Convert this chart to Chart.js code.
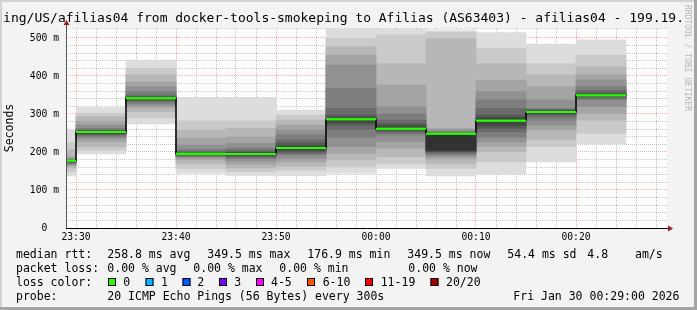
<!DOCTYPE html>
<html>
<head>
<meta charset="utf-8">
<script src="https://cdn.jsdelivr.net/npm/chart.js@4.4.1/dist/chart.umd.min.js"></script>
<style>
  html, body { margin: 0; padding: 0; background: #f3f3f3; }
  canvas { display: block; }
</style>
</head>
<body>
<canvas id="smokeChart" width="697" height="310"></canvas>
<script>
// slots of 5 minutes, x in minutes relative to 23:30
const slotStart = [-5, 0, 5, 10, 15, 20, 25, 30, 35, 40, 45, 50];
const slotLength = 5;
const medianRtt = [176.9, 252.6, 341.5, 195.6, 194.7, 210.5, 286, 261.4, 248, 282, 305, 349.5];

// 20 sorted ping times per slot (ms)
const pings2325 = [137, 148, 158, 164, 166, 169, 171, 173, 175, 176, 177.5, 178, 179, 180, 181, 183, 188, 205, 224, 260];
const pings2330 = [195, 205, 214, 227, 235, 240, 244, 247, 249, 251, 254, 255, 256, 258, 262, 271, 280, 293, 302, 317];
const pings2335 = [274, 289, 306, 316, 322, 328, 333, 336, 338, 340, 343, 344, 346, 350, 359, 372, 385, 403, 420, 442];
const pings2340 = [144, 157, 170, 180, 185, 188, 190, 192, 194, 195, 197, 198, 199, 202, 207, 218, 236, 258, 282, 344];
const pings2345 = [138, 148, 158, 168, 176, 183, 186, 189, 192, 194, 196, 198, 200, 205, 210, 223, 240, 262, 282, 344];
const pings2350 = [138, 152, 163, 174, 183, 192, 196, 200, 205, 209, 212, 216, 224, 232, 245, 258, 271, 284, 297, 310];
const pings2355 = [144, 161, 179, 197, 214, 240, 260, 271, 278, 284, 287, 290, 297, 315, 367, 429, 455, 477, 499, 526];
const pings0000 = [157, 170, 188, 210, 228, 245, 250, 255, 258, 260, 263, 268, 275, 284, 300, 319, 376, 433, 508, 523];
const pings0005 = [137, 157, 170, 182, 188, 193, 197, 200, 202, 205, 248, 249, 250, 251, 254, 258, 262, 499, 515, 521];
const pings0010 = [142, 174, 201, 215, 227, 240, 253, 262, 270, 280, 284, 290, 297, 315, 337, 359, 389, 433, 473, 514];
const pings0015 = [174, 214, 232, 258, 270, 284, 292, 298, 302, 304, 306, 308, 310, 312, 315, 337, 372, 403, 433, 484];
const pings0020 = [220, 249, 284, 302, 319, 337, 341, 344, 346, 348, 350, 352, 356, 362, 372, 389, 403, 424, 455, 495];
const pingSlots = [pings2325, pings2330, pings2335, pings2340, pings2345, pings2350,
                   pings2355, pings0000, pings0005, pings0010, pings0015, pings0020];

const xTickValues = [0, 10, 20, 30, 40, 50];
const xTickLabels = ['23:30', '23:40', '23:50', '00:00', '00:10', '00:20'];
const yTickValues = [0, 100, 200, 300, 400, 500];
const yTickLabels = ['0  ', '100 m', '200 m', '300 m', '400 m', '500 m'];

const lossLabels = ['0', '1', '2', '3', '4-5', '6-10', '11-19', '20/20'];
const lossColors = ['#26ff00', '#00b8ff', '#0059ff', '#7e00ff', '#ff00ff', '#ff5500', '#ff0000', '#a10000'];

const MONO = '"DejaVu Sans Mono", "Liberation Mono", monospace';
const majorGrid = 'rgba(255, 60, 60, 0.45)';
const minorGrid = 'rgba(150, 150, 150, 0.55)';

// smoke: band k spans ping k .. ping 21-k, darker towards the middle
const pingCount = 20;
const half = pingCount / 2;
const smokeSets = [];
for (let k = 1; k <= half; k++) {
  const c = Math.floor(190 / half * (half - k)) + 50;
  smokeSets.push({
    type: 'bar',
    data: slotStart.map((s, i) => ({ x: s + slotLength / 2, y: [pingSlots[i][k - 1], pingSlots[i][pingCount - k]] })),
    backgroundColor: `rgb(${c},${c},${c})`,
    borderWidth: 0,
    barThickness: 50,
    grouped: false,
    order: 20 - k,
    clip: 0
  });
}

// black step line through medians
const last = slotStart.length - 1;
const stepData = slotStart.map((s, i) => ({ x: s, y: medianRtt[i] }));
stepData.push({ x: slotStart[last] + slotLength, y: medianRtt[last] });

// green (loss colour) median segments
const greenData = [];
slotStart.forEach((s, i) => {
  greenData.push({ x: s, y: medianRtt[i] }, { x: s + slotLength, y: medianRtt[i] }, { x: s + slotLength, y: null });
});

const datasets = [
  {
    type: 'line', data: greenData, borderColor: lossColors[0], borderWidth: 2,
    borderCapStyle: 'butt', pointRadius: 0, fill: false, spanGaps: false, order: 0, clip: 0
  },
  {
    type: 'line', data: stepData, stepped: true, borderColor: '#000000', borderWidth: 1,
    pointRadius: 0, fill: false, order: 1, clip: 0
  }
].concat(smokeSets);

const legendRows = [
  { y: 257.5, items: [[16, 'median rtt:'], [107.3, '258.8 ms avg'], [207.3, '349.5 ms max'], [307.3, '176.9 ms min'],
                      [407.3, '349.5 ms now'], [507.3, '54.4 ms sd'], [587.3, '4.8'], [635, 'am/s']] },
  { y: 271.5, items: [[16, 'packet loss:'], [107.3, '0.00 % avg'], [193.3, '0.00 % max'], [279.3, '0.00 % min'], [408.3, '0.00 % now']] },
  { y: 285.5, items: [[16, 'loss color:']] },
  { y: 299.5, items: [[16, 'probe:'], [107.3, '20 ICMP Echo Pings (56 Bytes) every 300s'], [513.3, 'Fri Jan 30 00:29:00 2026']] }
];
const lossBoxX = [108, 145.5, 182.5, 219, 256, 307, 365, 430.5];
const lossTextX = [123.3, 161, 197.3, 234.3, 271, 322.7, 380.7, 446];

const rrdLook = {
  id: 'rrdLook',
  beforeDraw(chart) {
    const { ctx, chartArea: a } = chart;
    ctx.save();
    ctx.fillStyle = '#f3f3f3';
    ctx.fillRect(0, 0, chart.width, chart.height);
    ctx.fillStyle = '#d2d2d2';
    ctx.fillRect(0, 0, chart.width, 2);
    ctx.fillRect(0, 0, 2, chart.height);
    ctx.fillStyle = '#a4a4a4';
    ctx.fillRect(0, chart.height - 3, chart.width, 3);
    ctx.fillRect(chart.width - 3, 0, 3, chart.height);
    ctx.fillStyle = '#ffffff';
    ctx.fillRect(a.left, a.top, a.right - a.left, a.bottom - a.top);
    ctx.restore();
  },
  afterDraw(chart) {
    const { ctx, chartArea: a } = chart;

    // medians go over the grid, like rrdtool
    ctx.save();
    ctx.beginPath();
    ctx.rect(a.left, a.top, a.right - a.left, a.bottom - a.top);
    ctx.clip();
    chart.getDatasetMeta(1).controller.draw();
    chart.getDatasetMeta(0).controller.draw();
    ctx.restore();

    ctx.save();
    // axes with arrows
    ctx.strokeStyle = '#555555';
    ctx.lineWidth = 1;
    ctx.beginPath();
    ctx.moveTo(a.left + 0.5, a.bottom);
    ctx.lineTo(a.left + 0.5, a.top - 4);
    ctx.stroke();
    ctx.strokeStyle = '#000000';
    ctx.beginPath();
    ctx.moveTo(a.left, a.bottom + 0.5);
    ctx.lineTo(a.right + 2, a.bottom + 0.5);
    ctx.stroke();
    ctx.fillStyle = '#9b1c1c';
    ctx.beginPath();
    ctx.moveTo(a.left - 2.5, a.top - 3);
    ctx.lineTo(a.left + 3.5, a.top - 3);
    ctx.lineTo(a.left + 0.5, a.top - 8);
    ctx.closePath();
    ctx.fill();
    ctx.beginPath();
    ctx.moveTo(a.right + 1, a.bottom - 2.5);
    ctx.lineTo(a.right + 1, a.bottom + 3.5);
    ctx.lineTo(a.right + 6, a.bottom + 0.5);
    ctx.closePath();
    ctx.fill();

    // title
    ctx.fillStyle = '#000000';
    ctx.textBaseline = 'alphabetic';
    ctx.textAlign = 'left';
    ctx.font = '13px ' + MONO;
    ctx.fillText('ing/US/afilias04 from docker-tools-smokeping to Afilias (AS63403) - afilias04 - 199.19.', 3.1, 22);

    // legend
    ctx.font = '11.5px ' + MONO;
    legendRows.forEach(row => row.items.forEach(([x, t]) => ctx.fillText(t, x, row.y)));
    lossLabels.forEach((lab, i) => {
      ctx.fillStyle = lossColors[i];
      ctx.fillRect(lossBoxX[i], 278, 8, 8);
      ctx.strokeStyle = '#000000';
      ctx.strokeRect(lossBoxX[i] + 0.5, 278.5, 7, 7);
      ctx.fillStyle = '#000000';
      ctx.fillText(lab, lossTextX[i], 285.5);
    });

    // vertical credit
    ctx.translate(687.5, 5);
    ctx.rotate(Math.PI / 2);
    ctx.fillStyle = '#b4b4b4';
    ctx.font = '8px ' + MONO;
    ctx.textBaseline = 'middle';
    ctx.fillText('RRDTOOL / TOBI OETIKER', 0, 0);
    ctx.restore();
  }
};

new Chart(document.getElementById('smokeChart').getContext('2d'), {
  type: 'bar',
  data: { datasets: datasets },
  plugins: [rrdLook],
  options: {
    responsive: false,
    animation: false,
    events: [],
    layout: { padding: { left: 0, right: 30, top: 28, bottom: 0 } },
    plugins: { legend: { display: false }, tooltip: { enabled: false }, title: { display: false } },
    scales: {
      x: {
        type: 'linear',
        min: -1,
        max: 59.1,
        offset: false,
        z: 1,
        afterFit: s => { s.height = 82; },
        grid: {
          offset: false,
          drawTicks: false,
          color: c => (c.tick && xTickValues.includes(c.tick.value)) ? majorGrid : minorGrid
        },
        border: { display: false, dash: [1, 1] },
        ticks: {
          stepSize: 2,
          includeBounds: false,
          autoSkip: false,
          maxRotation: 0,
          minRotation: 0,
          padding: 4,
          color: '#000000',
          font: { family: MONO, size: 9.7 },
          callback: v => { const i = xTickValues.indexOf(v); return i >= 0 ? xTickLabels[i] : ''; }
        }
      },
      y: {
        min: 0,
        max: 526.3,
        z: 1,
        afterFit: s => { s.width = 66; },
        grid: {
          drawTicks: false,
          color: c => (c.tick && yTickValues.includes(c.tick.value)) ? majorGrid : minorGrid
        },
        border: { display: false, dash: [1, 1] },
        ticks: {
          stepSize: 20,
          autoSkip: false,
          padding: 7,
          color: '#000000',
          font: { family: MONO, size: 9.7 },
          callback: v => { const i = yTickValues.indexOf(v); return i >= 0 ? yTickLabels[i] : ''; }
        },
        title: {
          display: true,
          text: 'Seconds',
          color: '#000000',
          font: { family: MONO, size: 11.5 },
          padding: { top: 3.5, bottom: 0 }
        }
      }
    }
  }
});
</script>
</body>
</html>
